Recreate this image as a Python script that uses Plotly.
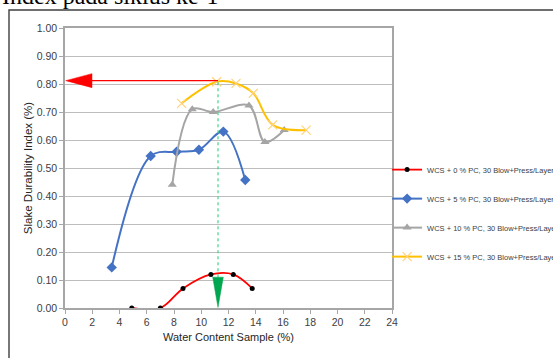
import plotly.graph_objects as go

# ---- data ----
names = [
    "WCS + 0 % PC, 30 Blow+Press/Layer",
    "WCS + 5 % PC, 30 Blow+Press/Layer",
    "WCS + 10 % PC, 30 Blow+Press/Layer",
    "WCS + 15 % PC, 30 Blow+Press/Layer",
]
x_pc0 = [4.9, 7.0, 8.66, 10.71, 12.35, 13.74]
y_pc0 = [0.00, 0.00, 0.07, 0.12, 0.12, 0.07]
x_pc5 = [3.43, 6.29, 8.19, 9.83, 11.62, 13.23]
y_pc5 = [0.145, 0.543, 0.558, 0.565, 0.630, 0.457]
x_pc10 = [7.87, 9.34, 10.88, 13.5, 14.67, 16.09]
y_pc10 = [0.44, 0.71, 0.70, 0.723, 0.593, 0.636]
x_pc15 = [8.56, 11.13, 12.55, 13.82, 15.24, 17.7]
y_pc15 = [0.731, 0.808, 0.802, 0.767, 0.654, 0.635]

x_ticks = list(range(0, 25, 2))
y_ticks = [i / 10 for i in range(0, 11)]

guide_x = 11.23   # water content
guide_y = 0.812   # durability index

title_text = "Index pada siklus ke-1"
x_title = "Water Content Sample (%)"
y_title = "Slake Durability Index (%)"

# ---- figure ----
fig = go.Figure()

styles = [
    dict(line=dict(color="#ff0000", width=1.8),
         marker=dict(symbol="circle", size=5, color="#000000")),
    dict(line=dict(color="#4472c4", width=2),
         marker=dict(symbol="diamond", size=8, color="#4472c4")),
    dict(line=dict(color="#a5a5a5", width=2),
         marker=dict(symbol="triangle-up", size=8, color="#a5a5a5")),
    dict(line=dict(color="#ffc000", width=2),
         marker=dict(symbol="x-thin", size=9, line=dict(color="#ffd37a", width=1.2))),
]
series = [(x_pc0, y_pc0), (x_pc5, y_pc5), (x_pc10, y_pc10), (x_pc15, y_pc15)]
for i, ((xs, ys), st) in enumerate(zip(series, styles)):
    fig.add_trace(go.Scatter(
        x=xs, y=ys, mode="lines+markers", name=names[i],
        line=dict(shape="spline", smoothing=1.0, **st["line"]),
        marker=st["marker"], legendgroup=f"g{i}",
    ))

# guide lines and arrowheads
xs_per_px = 24 / 327
ys_per_px = 1 / 280
shapes = [
    # outer frame
    dict(type="rect", xref="paper", yref="paper",
         x0=(9 - 65) / 327, x1=3, y0=-2, y1=1 + 18 / 280,
         line=dict(color="#3f3f3f", width=1.4), fillcolor="rgba(0,0,0,0)", layer="above"),
    # red horizontal line
    dict(type="line", xref="x", yref="y", x0=27 * xs_per_px, x1=guide_x, y0=guide_y, y1=guide_y,
         line=dict(color="#ff0000", width=1.3)),
    # red arrowhead
    dict(type="path", xref="x", yref="y",
         path=f"M {0.05} {guide_y} L {27 * xs_per_px} {guide_y + 7 * ys_per_px} "
              f"L {27 * xs_per_px} {guide_y - 7 * ys_per_px} Z",
         fillcolor="#ff0000", line=dict(color="#ff0000", width=0.5)),
    # green dashed vertical line
    dict(type="line", xref="x", yref="y", x0=guide_x, x1=guide_x, y0=0.11, y1=guide_y,
         line=dict(color="#3fd68a", width=1.2, dash="dot")),
    # green arrowhead
    dict(type="path", xref="x", yref="y",
         path=f"M {guide_x} 0.002 L {guide_x - 5.3 * xs_per_px} 0.11 "
              f"L {guide_x + 5.3 * xs_per_px} 0.11 Z",
         fillcolor="#00a650", line=dict(color="#00a650", width=0.5)),
]

fig.update_layout(
    width=553, height=358,
    margin=dict(l=65, r=161, t=28, b=50, autoexpand=False),
    paper_bgcolor="white", plot_bgcolor="white",
    font=dict(family="Liberation Sans, Arial, sans-serif", color="#404040"),
    shapes=shapes,
    showlegend=True,
    legend=dict(x=0.985, xanchor="left", y=0.546, yanchor="top",
                font=dict(size=7.5, color="#404040"), tracegroupgap=10,
                itemwidth=30, bgcolor="rgba(0,0,0,0)"),
    annotations=[
        dict(text=title_text, xref="paper", yref="paper", x=(0 - 65) / 327, y=1 + 17 / 280,
             xanchor="left", yanchor="bottom", showarrow=False,
             font=dict(family="Liberation Serif, DejaVu Serif, serif", size=24, color="#000000")),
    ],
)

fig.update_xaxes(
    range=[0, 24], tickvals=x_ticks, ticktext=[str(v) for v in x_ticks],
    showgrid=False, zeroline=False, automargin=False,
    showline=True, linecolor="#a6a6a6", linewidth=1.5, mirror=True,
    ticks="outside", ticklen=4, tickcolor="#a6a6a6",
    tickfont=dict(size=10.5, color="#404040"),
    title=dict(text=x_title, font=dict(size=11, color="#262626"), standoff=6),
)
fig.update_yaxes(
    range=[0, 1], tickvals=y_ticks, ticktext=[f"{v:.2f}" for v in y_ticks],
    showgrid=True, gridcolor="#bdbdbd", gridwidth=1, zeroline=False, automargin=False,
    showline=True, linecolor="#a6a6a6", linewidth=1.5, mirror=True,
    ticks="outside", ticklen=4, tickcolor="#a6a6a6",
    tickfont=dict(size=10.5, color="#404040"),
    title=dict(text=y_title, font=dict(size=11.5, color="#262626"), standoff=2),
)

fig.write_html("out.html", config={"displayModeBar": False},
               post_script="document.body.style.margin='0';")
